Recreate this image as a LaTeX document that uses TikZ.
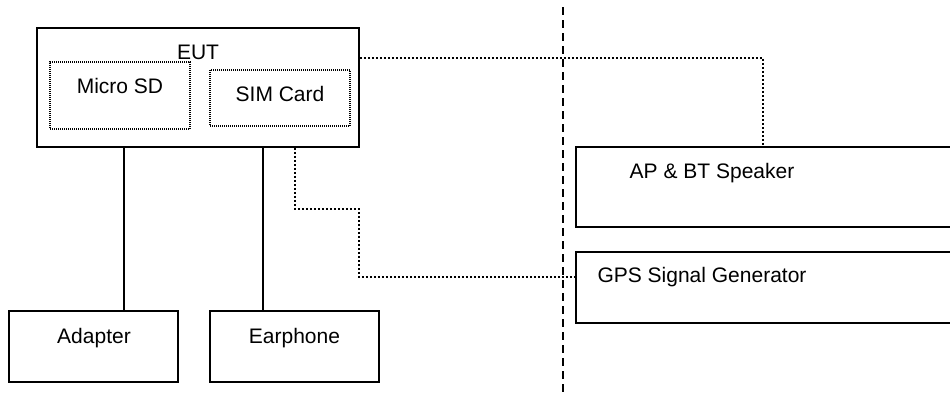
\documentclass[tikz,border=0pt]{standalone}
\usepackage{fontspec}
\setmainfont{Liberation Sans}
\begin{document}
\begin{tikzpicture}[x=1pt,y=-1pt,
  box/.style={draw=black,line width=1.8pt,rectangle,inner sep=0pt,anchor=center},
  innerbox/.style={draw=black,line width=1.2pt,dash pattern=on 1pt off 1pt,rectangle,inner sep=0pt,anchor=center},
  lbl/.style={inner sep=0pt,anchor=base,font=\fontsize{21}{24}\selectfont},
  wire/.style={draw=black,line width=1.5pt},
  dotwire/.style={draw=black,line width=1.8pt,dash pattern=on 2pt off 2pt},
  divider/.style={draw=black,line width=1.8pt,dash pattern=on 8pt off 5pt}]
\useasboundingbox (0,0) rectangle (950,392);
\fill[white] (0,0) rectangle (950,392);
% boxes
\node[box,minimum width=322pt,minimum height=119pt] (eut) at (198,87.5) {};
\node[innerbox,minimum width=140pt,minimum height=67pt] (sd) at (120,95.5) {};
\node[innerbox,minimum width=140pt,minimum height=56pt] (sim) at (280,98) {};
\node[box,minimum width=169pt,minimum height=71pt] (adapter) at (93.5,346.5) {};
\node[box,minimum width=169pt,minimum height=71pt] (earphone) at (294.5,346.5) {};
\node[box,minimum width=380pt,minimum height=80pt] (ap) at (766,187) {};
\node[box,minimum width=380pt,minimum height=71pt] (gps) at (766,287.5) {};
% labels
\node[lbl] (eutt) at (198,59) {EUT};
\node[lbl] (sdt) at (120,93) {Micro SD};
\node[lbl] (simt) at (280,101) {SIM Card};
\node[lbl] (adt) at (94,343) {Adapter};
\node[lbl] (ept) at (294.5,343) {Earphone};
\node[lbl] (apt) at (712,178) {AP \& BT Speaker};
\node[lbl] (gpst) at (702,282) {GPS Signal Generator};
% divider
\coordinate (dtop) at (563,7);
\coordinate (dbot) at (563,392);
\draw[divider] (dtop) -- (dbot);
% connectors
\draw[wire] (eut.south -| 124,0) -- (adapter.north -| 124,0);
\draw[wire] (eut.south -| 263,0) -- (earphone.north -| 263,0);
\draw[dotwire] (eut.east |- 0,58) -- (763,58) -- (ap.north -| 763,0);
\draw[dotwire] (eut.south -| 295,0) -- (295,209) -- (359,209) -- (359,277) -- (gps.west |- 0,277);
\end{tikzpicture}
\end{document}
